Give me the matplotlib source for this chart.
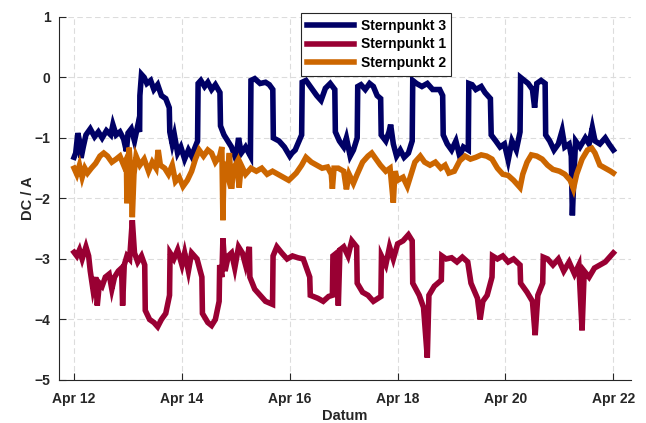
import datetime as dt
import matplotlib
matplotlib.use('Agg')
import matplotlib.pyplot as plt
import matplotlib.dates as mdates

plt.rcParams['font.family'] = ['Liberation Sans', 'DejaVu Sans']
plt.rcParams['font.weight'] = 'bold'

start = dt.datetime(2019, 4, 12)

# Sternpunkt 3 (days after Apr 12, value in A)
t3 = [0.00, 0.03, 0.07, 0.10, 0.13, 0.17, 0.22, 0.30, 0.38, 0.45, 0.52, 0.60, 0.68, 0.72,
      0.78, 0.85, 0.92, 0.97, 1.00, 1.06, 1.12, 1.18, 1.215, 1.22, 1.25, 1.30, 1.35, 1.42,
      1.48, 1.55, 1.62, 1.70, 1.765, 1.775, 1.82, 1.86, 1.92, 1.98, 2.05, 2.12, 2.18, 2.29,
      2.30, 2.35, 2.42, 2.48, 2.55, 2.62, 2.705, 2.715, 2.78, 2.85, 2.92, 3.00, 3.05, 3.10,
      3.18, 3.27, 3.28, 3.35, 3.45, 3.55, 3.62, 3.685, 3.695, 3.80, 3.90, 4.00, 4.04, 4.10,
      4.22, 4.23, 4.30, 4.38, 4.50, 4.58, 4.66, 4.75, 4.835, 4.845, 4.92, 5.00, 5.05, 5.12,
      5.18, 5.25, 5.26, 5.32, 5.40, 5.48, 5.55, 5.62, 5.685, 5.695, 5.78, 5.84, 5.87, 5.92,
      5.98, 6.05, 6.12, 6.20, 6.27, 6.28, 6.35, 6.45, 6.55, 6.65, 6.78, 6.835, 6.845, 6.92,
      7.00, 7.08, 7.15, 7.22, 7.31, 7.32, 7.38, 7.45, 7.55, 7.62, 7.72, 7.735, 7.82, 7.90,
      7.98, 8.05, 8.12, 8.20, 8.27, 8.28, 8.35, 8.42, 8.50, 8.54, 8.58, 8.66, 8.735, 8.745,
      8.82, 8.90, 8.98, 9.05, 9.10, 9.18, 9.22, 9.24, 9.27, 9.30, 9.38, 9.48, 9.55, 9.61,
      9.66, 9.75, 9.85, 9.92, 10.0]
v3 = [-1.32, -1.25, -0.92, -1.05, -1.33, -1.15, -0.95, -0.85, -0.98, -0.90, -1.00, -0.88, -0.95, -0.78,
      -0.95, -0.90, -1.02, -1.22, -0.92, -0.85, -1.05, -0.80, -0.90, -0.30, 0.05, 0.00, -0.10, -0.05,
      -0.20, -0.12, -0.30, -0.35, -0.50, -0.90, -1.10, -0.95, -1.25, -1.15, -1.35, -1.20, -1.30, -1.05,
      -0.10, -0.05, -0.15, -0.08, -0.20, -0.12, -0.25, -0.80, -0.95, -1.05, -1.15, -1.35, -1.00, -1.25,
      -1.15, -1.30, -0.05, -0.02, -0.10, -0.08, -0.12, -0.20, -1.00, -1.05, -1.15, -1.30, -1.25, -1.20,
      -0.95, -0.08, -0.05, -0.15, -0.30, -0.38, -0.18, -0.10, -0.20, -0.90, -1.05, -1.15, -1.00, -1.30,
      -1.20, -1.00, -0.15, -0.12, -0.20, -0.10, -0.15, -0.30, -0.35, -0.95, -1.05, -0.90, -0.78, -1.10,
      -1.30, -1.20, -1.32, -1.25, -1.05, -0.05, -0.10, -0.15, -0.10, -0.20, -0.20, -0.30, -0.95, -1.10,
      -1.20, -1.05, -1.30, -1.15, -1.20, -0.10, -0.12, -0.20, -0.15, -0.25, -0.35, -0.95, -1.05, -1.15,
      -1.10, -1.37, -1.05, -1.20, -0.90, 0.00, -0.05, -0.10, -0.20, -0.50, -0.10, -0.05, -0.10, -0.95,
      -1.05, -1.20, -1.10, -0.88, -1.15, -1.10, -1.30, -2.28, -1.60, -1.05, -1.15, -1.00, -1.10, -0.83,
      -1.05, -1.10, -1.00, -1.10, -1.20]

# Sternpunkt 1
t1 = [0.00, 0.05, 0.10, 0.15, 0.22, 0.27, 0.30, 0.35, 0.40, 0.43, 0.47, 0.52, 0.58, 0.65,
      0.70, 0.75, 0.82, 0.88, 0.90, 0.93, 0.98, 1.03, 1.08, 1.12, 1.18, 1.25, 1.31, 1.32,
      1.40, 1.48, 1.55, 1.62, 1.70, 1.77, 1.78, 1.85, 1.92, 2.00, 2.05, 2.12, 2.18, 2.28,
      2.37, 2.38, 2.48, 2.55, 2.62, 2.69, 2.70, 2.74, 2.76, 2.80, 2.86, 2.92, 2.98, 3.05,
      3.12, 3.18, 3.25, 3.26, 3.35, 3.45, 3.55, 3.68, 3.69, 3.76, 3.85, 3.95, 4.05, 4.15,
      4.25, 4.37, 4.38, 4.52, 4.62, 4.72, 4.79, 4.80, 4.87, 4.90, 4.93, 5.00, 5.08, 5.15,
      5.24, 5.25, 5.35, 5.45, 5.55, 5.69, 5.70, 5.78, 5.85, 5.92, 6.00, 6.10, 6.20, 6.27,
      6.28, 6.40, 6.48, 6.55, 6.58, 6.68, 6.81, 6.82, 6.90, 7.00, 7.10, 7.20, 7.30, 7.36,
      7.48, 7.53, 7.58, 7.66, 7.75, 7.76, 7.85, 7.95, 8.05, 8.15, 8.27, 8.28, 8.40, 8.50,
      8.55, 8.60, 8.69, 8.70, 8.78, 8.88, 8.98, 9.08, 9.18, 9.28, 9.36, 9.42, 9.46, 9.55,
      9.65, 9.75, 9.85, 9.95, 10.0]
v1 = [-2.89, -2.95, -2.85, -3.00, -2.80, -2.95, -3.20, -3.50, -3.30, -3.77, -3.40, -3.45, -3.30, -3.25,
      -3.50, -3.30, -3.20, -3.15, -3.77, -3.10, -2.95, -3.00, -2.36, -2.90, -3.05, -2.95, -3.10, -3.85,
      -4.00, -4.05, -4.12, -4.00, -3.90, -3.60, -2.90, -3.00, -2.85, -3.10, -2.90, -3.20, -2.90, -3.00,
      -3.30, -3.90, -4.05, -4.10, -4.00, -3.70, -3.10, -3.30, -2.66, -3.20, -2.95, -2.90, -3.15, -2.80,
      -2.90, -3.10, -2.80, -3.30, -3.50, -3.60, -3.70, -3.75, -2.95, -2.80, -2.90, -3.00, -2.95, -2.98,
      -3.00, -3.30, -3.60, -3.65, -3.70, -3.62, -3.60, -2.95, -2.90, -3.77, -2.85, -2.80, -2.95, -2.70,
      -2.80, -3.40, -3.55, -3.60, -3.70, -3.62, -2.95, -3.10, -2.80, -3.00, -2.75, -2.70, -2.60, -2.70,
      -3.40, -3.60, -3.80, -4.63, -3.60, -3.45, -3.35, -2.95, -3.00, -2.98, -3.05, -2.97, -3.05, -3.40,
      -3.65, -4.00, -3.70, -3.60, -3.30, -2.95, -3.00, -2.95, -3.05, -3.00, -3.10, -3.40, -3.55, -3.70,
      -4.26, -3.60, -3.40, -2.97, -3.00, -3.10, -3.00, -3.20, -3.05, -3.25, -3.10, -4.18, -3.20, -3.30,
      -3.15, -3.10, -3.05, -2.95, -2.90]

# Sternpunkt 2
t2 = [0.00, 0.05, 0.10, 0.15, 0.20, 0.25, 0.32, 0.40, 0.48, 0.55, 0.62, 0.70, 0.78, 0.85,
      0.92, 0.97, 0.98, 1.00, 1.02, 1.05, 1.08, 1.11, 1.15, 1.22, 1.30, 1.38, 1.45, 1.52,
      1.56, 1.60, 1.68, 1.75, 1.82, 1.88, 1.95, 2.02, 2.10, 2.18, 2.25, 2.32, 2.40, 2.48,
      2.55, 2.62, 2.70, 2.74, 2.76, 2.78, 2.84, 2.88, 2.92, 2.96, 3.02, 3.06, 3.10, 3.18,
      3.28, 3.38, 3.48, 3.58, 3.68, 3.78, 3.88, 3.98, 4.04, 4.12, 4.22, 4.30, 4.40, 4.50,
      4.60, 4.70, 4.77, 4.79, 4.82, 4.90, 5.00, 5.05, 5.10, 5.18, 5.25, 5.35, 5.45, 5.52,
      5.60, 5.68, 5.78, 5.86, 5.92, 5.95, 6.00, 6.10, 6.18, 6.25, 6.32, 6.42, 6.50, 6.60,
      6.70, 6.80, 6.88, 6.95, 7.05, 7.15, 7.25, 7.35, 7.45, 7.55, 7.65, 7.75, 7.85, 7.95,
      8.05, 8.15, 8.27, 8.32, 8.40, 8.48, 8.58, 8.68, 8.78, 8.88, 9.00, 9.10, 9.20, 9.26,
      9.32, 9.42, 9.52, 9.60, 9.66, 9.75, 9.85, 9.95, 10.0]
v2 = [-1.50, -1.60, -1.45, -1.65, -1.50, -1.58, -1.50, -1.42, -1.30, -1.25, -1.30, -1.40, -1.35, -1.30,
      -1.45, -1.35, -2.08, -1.50, -1.16, -1.55, -2.31, -1.60, -1.30, -1.45, -1.35, -1.55, -1.40, -1.50,
      -1.20, -1.45, -1.50, -1.60, -1.45, -1.72, -1.65, -1.80, -1.70, -1.55, -1.35, -1.20, -1.30, -1.20,
      -1.25, -1.40, -1.30, -1.15, -2.36, -1.40, -1.60, -1.25, -1.84, -1.50, -1.40, -1.82, -1.45, -1.60,
      -1.50, -1.55, -1.50, -1.60, -1.55, -1.60, -1.65, -1.70, -1.65, -1.58, -1.45, -1.32, -1.40, -1.45,
      -1.50, -1.48, -1.60, -1.84, -1.50, -1.50, -1.55, -1.85, -1.60, -1.75, -1.60, -1.40, -1.30, -1.25,
      -1.35, -1.45, -1.55, -1.50, -2.07, -1.55, -1.70, -1.65, -1.80, -1.60, -1.40, -1.30, -1.40, -1.45,
      -1.40, -1.50, -1.45, -1.58, -1.55, -1.38, -1.30, -1.35, -1.32, -1.28, -1.30, -1.35, -1.50, -1.60,
      -1.62, -1.70, -1.82, -1.60, -1.40, -1.28, -1.30, -1.35, -1.45, -1.52, -1.55, -1.60, -1.70, -1.84,
      -1.60, -1.35, -1.20, -1.17, -1.25, -1.45, -1.50, -1.55, -1.58]

series = [(t3, v3, 'Sternpunkt 3', '#000066'),
          (t1, v1, 'Sternpunkt 1', '#990033'),
          (t2, v2, 'Sternpunkt 2', '#cc6600')]

fig = plt.figure(figsize=(6.46, 4.23), dpi=100)
ax = fig.add_axes([0.0913, 0.1017, 0.8857, 0.8583])

for t, v, name, col in series:
    x = [start + dt.timedelta(days=d) for d in t]
    ax.plot(x, v, color=col, linewidth=4, label=name, solid_joinstyle='miter')

ax.set_xlim(start - dt.timedelta(days=0.28), start + dt.timedelta(days=10.33))
ax.set_ylim(-5, 1)
ax.set_xticks([start + dt.timedelta(days=2 * i) for i in range(6)])
ax.xaxis.set_major_formatter(mdates.DateFormatter('%b %d'))
ax.set_yticks(range(-5, 2))

ax.grid(True, linestyle=(0, (5, 3)), color='#dcdcdc', linewidth=0.8)
ax.set_axisbelow(True)
for s in ['top', 'right']:
    ax.spines[s].set_visible(False)
for s in ['left', 'bottom']:
    ax.spines[s].set_color('#262626')
    ax.spines[s].set_linewidth(0.8)
ax.tick_params(direction='in', length=5, width=0.8, labelsize=10, colors='#262626')
ax.tick_params(axis='x', pad=9)
ax.tick_params(axis='y', pad=6)
for lbl in ax.get_xticklabels() + ax.get_yticklabels():
    lbl.set_fontweight('bold')

ax.set_xlabel('Datum', fontsize=10.5, fontweight='bold', color='#262626', labelpad=2)
ax.set_ylabel('DC / A', fontsize=10.5, fontweight='bold', color='#262626', labelpad=0)

leg = ax.legend(loc='upper left', bbox_to_anchor=(0.411, 1.03), fontsize=10,
                handlelength=3.4, fancybox=False, framealpha=1, edgecolor='#262626',
                borderpad=0.4, labelspacing=0.35, handletextpad=0.5)
leg.get_frame().set_linewidth(0.8)
for txt in leg.get_texts():
    txt.set_fontweight('bold')

fig.savefig('out.png', dpi=100)
